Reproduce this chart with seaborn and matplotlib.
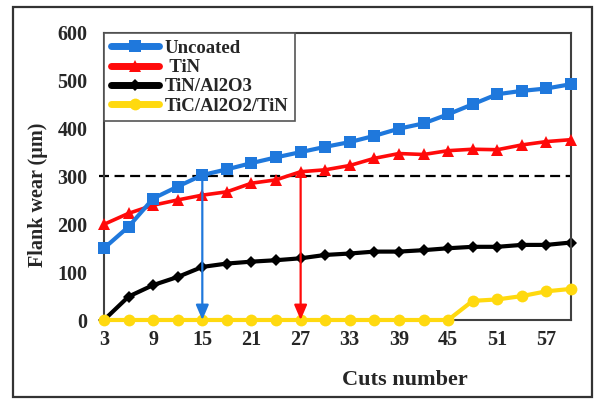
import matplotlib
matplotlib.use("Agg")
import matplotlib.pyplot as plt
from matplotlib.patches import Rectangle
import seaborn as sns
import pandas as pd

cuts = [3, 6, 9, 12, 15, 18, 21, 24, 27, 30, 33, 36, 39, 42, 45, 48, 51, 54, 57, 60]
uncoated = [150, 195, 254, 279, 303, 315, 328, 340, 351, 362, 372, 385, 400, 411, 430, 451, 472, 479, 484, 493]
tin = [200, 223, 240, 251, 261, 268, 286, 293, 310, 314, 323, 338, 348, 346, 354, 357, 356, 366, 373, 377]
tin_al2o3 = [0, 49, 73, 90, 111, 118, 122, 125, 129, 136, 139, 143, 143, 146, 150, 153, 153, 157, 157, 162]
tic_al2o2_tin = [0, 0, 0, 0, 0, 0, 0, 0, 0, 0, 0, 0, 0, 0, 0, 40, 43, 50, 60, 65]
labels = ["Uncoated", " TiN", "TiN/Al2O3", "TiC/Al2O2/TiN"]
xticks = [3, 9, 15, 21, 27, 33, 39, 45, 51, 57]
yticks = [0, 100, 200, 300, 400, 500, 600]
threshold = 300
arrow_cuts = [15, 27]
arrow_tops = [300, 310]

sns.set_style("white")
plt.rcParams["font.family"] = ["Liberation Serif", "DejaVu Serif"]
plt.rcParams["font.weight"] = "bold"

fig = plt.figure(figsize=(5.95, 4.01), dpi=100)
ax = fig.add_axes([104/595, 1-320/401, 467/595, 287/401])

series = [uncoated, tin, tin_al2o3, tic_al2o2_tin]
colors = ["#1F78DC", "#FF0A0A", "#000000", "#FFD90F"]
markers = ["s", "^", "D", "o"]
msizes = [8, 8.5, 6.5, 8.5]
lws = [3.0, 2.6, 3.0, 3.0]
orders = [4, 3, 2, 5]

for vals, lab, c, m, ms, lw, z in zip(series, labels, colors, markers, msizes, lws, orders):
    sns.lineplot(x=cuts, y=vals, ax=ax, color=c, marker=m, markersize=ms,
                 markeredgewidth=0, linewidth=lw, label=lab, clip_on=False, zorder=z)

ax.axhline(threshold, xmin=-0.01, xmax=1.0, color="black", lw=1.6,
           dashes=(4.5, 2.5), zorder=1, clip_on=False)

for xc, top, c in zip(arrow_cuts, arrow_tops, ["#1F78DC", "#FF0A0A"]):
    ax.annotate("", xy=(xc, 0), xytext=(xc, top),
                arrowprops=dict(arrowstyle="-|>,head_length=0.75,head_width=0.32",
                                color=c, lw=1.6, shrinkA=0, shrinkB=0,
                                mutation_scale=12),
                zorder=6, annotation_clip=False)

ax.set_xlim(3, 60)
ax.set_ylim(0, 600)
ax.set_xticks(xticks)
ax.set_yticks(yticks)
ax.tick_params(axis="both", length=0, labelsize=14.5)
ax.tick_params(axis="y", pad=12)
ax.tick_params(axis="x", pad=7)
for t in ax.get_xticklabels() + ax.get_yticklabels():
    t.set_fontweight("bold")

ax.set_xlabel("Cuts number", fontsize=16, fontweight="bold")
ax.set_ylabel("Flank wear (µm)", fontsize=14.5, fontweight="bold")
ax.xaxis.set_label_coords(0.645, -0.174)
ax.yaxis.set_label_coords(-0.12, 0.435)

for s in ax.spines.values():
    s.set_color("#404040")
    s.set_linewidth(1.5)

leg = ax.legend(loc="upper left", bbox_to_anchor=(0, 1), borderaxespad=0,
                frameon=True, fancybox=False, framealpha=1, edgecolor="#555555",
                prop={"family": "Liberation Serif", "weight": "bold", "size": 13.5},
                handlelength=2.6, handletextpad=0.3, labelspacing=0.12,
                borderpad=0.35)
leg.get_frame().set_linewidth(1.2)
for h in leg.get_lines():
    h.set_linewidth(5)

fig.add_artist(Rectangle((12.7/595, 1-397/401), (592-12.7)/595, (397-6.7)/401,
                         transform=fig.transFigure, fill=False, lw=1.6, ec="#333333"))

fig.savefig("out.png", dpi=100)
